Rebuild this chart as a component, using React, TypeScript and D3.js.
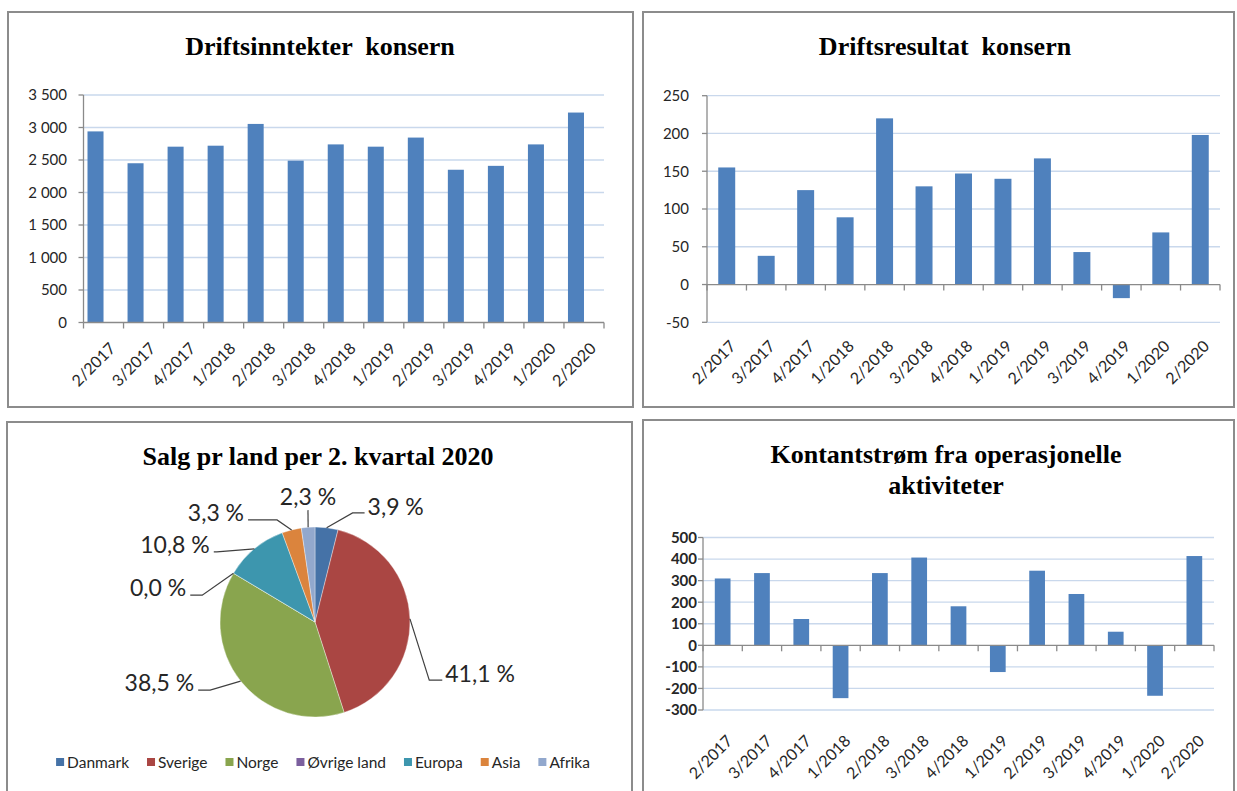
import React, { useEffect, useRef } from 'react';
import * as d3 from 'd3';

// quarters on the category axis (same for all three bar charts)
const QUARTERS = ['2/2017', '3/2017', '4/2017', '1/2018', '2/2018', '3/2018', '4/2018', '1/2019', '2/2019', '3/2019', '4/2019', '1/2020', '2/2020'];

// Driftsinntekter konsern
const REVENUE = [2940, 2450, 2705, 2720, 3055, 2490, 2740, 2705, 2845, 2350, 2410, 2740, 3230];
const REVENUE_TICKS = [0, 500, 1000, 1500, 2000, 2500, 3000, 3500];

// Driftsresultat konsern
const OP_RESULT = [155, 38, 125, 89, 220, 130, 147, 140, 167, 43, -18, 69, 198];
const OP_RESULT_TICKS = [-50, 0, 50, 100, 150, 200, 250];

// Kontantstrøm fra operasjonelle aktiviteter
const CASH_FLOW = [310, 335, 122, -245, 335, 407, 181, -124, 346, 238, 63, -234, 414];
const CASH_FLOW_TICKS = [-300, -200, -100, 0, 100, 200, 300, 400, 500];

// Salg pr land per 2. kvartal 2020 (%)
const COUNTRIES = ['Danmark', 'Sverige', 'Norge', 'Øvrige land', 'Europa', 'Asia', 'Afrika'];
const SHARES = [3.9, 41.1, 38.5, 0.0, 10.8, 3.3, 2.3];

const COUNTRY_COLORS = ['#4572A7', '#AA4643', '#89A54E', '#7B5F9E', '#3D96AE', '#DB843D', '#92A8CD'];
const BAR_COLOR = '#4F81BD';
const GRID_COLOR = '#C9D8EC';
const AXIS_COLOR = '#8A8A8A';
const BORDER_COLOR = '#8C8C8C';
const TEXT_COLOR = '#262626';
const SANS = 'Lato, "Open Sans", sans-serif';
const SERIF = '"Liberation Serif", "Times New Roman", serif';

// where Excel put the pie data labels: elbow of the leader line (polar, degrees / radii), tail length
const PIE_LABEL_LAYOUT = [
  { angle: 19, dist: 1.215, tail: 12 },
  { angle: 117, dist: 1.35, tail: 13 },
  { angle: 237, dist: 1.316, tail: -12 },
  { angle: 283.4, dist: 1.22, tail: -12 },
  { angle: 305.5, dist: 1.27, tail: -3 },
  { angle: 339.6, dist: 1.146, tail: -29 },
  { angle: 356.4, dist: 1.18, tail: 0 },
];

const noLocale = d3.formatLocale({ decimal: ',', thousands: '\u00a0', grouping: [3], currency: ['', ''], minus: '-' });
const fmtInt = noLocale.format(',d');
const fmtPct = (v) => noLocale.format('.1f')(v) + ' %';

function drawPanel(svg, x, y, w, h) {
  svg.append('rect')
    .attr('x', x).attr('y', y).attr('width', w).attr('height', h)
    .attr('fill', '#fff').attr('stroke', BORDER_COLOR).attr('stroke-width', 2);
}

function drawTitle(svg, lines, cx, y0, lineH) {
  svg.append('g').selectAll('text').data(lines).enter().append('text')
    .attr('x', cx).attr('y', (d, i) => y0 + i * lineH)
    .attr('text-anchor', 'middle')
    .style('font-family', SERIF).style('font-weight', 'bold').style('font-size', '26px')
    .style('white-space', 'pre')
    .attr('fill', '#000')
    .text(d => d);
}

function drawBarChart(svg, cfg) {
  const g = svg.append('g');
  const x = d3.scaleBand().domain(QUARTERS).range([cfg.left, cfg.right]).padding(0);
  const y = d3.scaleLinear().domain(cfg.domain).range([cfg.bottom, cfg.top]);
  const step = x.step();

  // gridlines
  g.selectAll('.grid').data(cfg.ticks.filter(t => t !== 0)).enter().append('line')
    .attr('x1', cfg.left).attr('x2', cfg.right)
    .attr('y1', d => y(d)).attr('y2', d => y(d))
    .attr('stroke', GRID_COLOR).attr('stroke-width', 1.3);

  // bars
  let barX, barW;
  if (cfg.pair) {
    // clustered layout with an empty second series, so the bar sits left in its slot
    const sub = d3.scaleBand().domain(['s1', 's2']).range([0, step]).paddingInner(0).paddingOuter(0.25);
    barX = q => x(q) + sub('s1');
    barW = sub.bandwidth();
  } else {
    const inner = d3.scaleBand().domain(['s1']).range([0, step]).paddingInner(cfg.gap).paddingOuter(cfg.gap / 2);
    barX = q => x(q) + inner('s1');
    barW = inner.bandwidth();
  }
  g.selectAll('.bar').data(cfg.values).enter().append('rect')
    .attr('x', (d, i) => barX(QUARTERS[i]))
    .attr('width', barW)
    .attr('y', d => Math.min(y(d), y(0)))
    .attr('height', d => Math.abs(y(d) - y(0)))
    .attr('fill', BAR_COLOR);

  // value axis
  g.append('line')
    .attr('x1', cfg.left).attr('x2', cfg.left)
    .attr('y1', y(cfg.domain[1])).attr('y2', y(cfg.domain[0]))
    .attr('stroke', AXIS_COLOR).attr('stroke-width', 1.3);
  g.selectAll('.ytick').data(cfg.ticks).enter().append('line')
    .attr('x1', cfg.left - 5).attr('x2', cfg.left)
    .attr('y1', d => y(d)).attr('y2', d => y(d))
    .attr('stroke', AXIS_COLOR).attr('stroke-width', 1.3);
  g.selectAll('.ylab').data(cfg.ticks).enter().append('text')
    .attr('x', cfg.labelRight).attr('y', d => y(d)).attr('dy', '0.36em')
    .attr('text-anchor', 'end')
    .style('font-family', SANS).style('font-size', '15px')
    .style('font-weight', cfg.boldTicks ? 'bold' : 'normal')
    .attr('fill', TEXT_COLOR)
    .text(d => fmtInt(d));

  // category axis at zero
  const y0 = y(0);
  g.append('line')
    .attr('x1', cfg.left).attr('x2', cfg.right)
    .attr('y1', y0).attr('y2', y0)
    .attr('stroke', AXIS_COLOR).attr('stroke-width', 1.3);
  g.selectAll('.xtick').data(d3.range(QUARTERS.length + 1)).enter().append('line')
    .attr('x1', i => cfg.left + i * step).attr('x2', i => cfg.left + i * step)
    .attr('y1', y0).attr('y2', y0 + 6)
    .attr('stroke', AXIS_COLOR).attr('stroke-width', 1.3);

  // rotated quarter labels below the plot area
  g.selectAll('.xlab').data(QUARTERS).enter().append('text')
    .attr('transform', q => `translate(${x(q) + step / 2 + cfg.labelDx},${cfg.bottom + cfg.labelDy}) rotate(-45)`)
    .attr('text-anchor', 'end')
    .style('font-family', SANS).style('font-size', '16px')
    .attr('fill', TEXT_COLOR)
    .text(q => q);
}

function drawPie(svg, cx, cy, r) {
  const g = svg.append('g').attr('transform', `translate(${cx},${cy})`);
  const pie = d3.pie().sort(null).value(d => d);
  const arcs = pie(SHARES);
  const arc = d3.arc().innerRadius(0).outerRadius(r);

  g.selectAll('path').data(arcs).enter().append('path')
    .attr('d', arc)
    .attr('fill', (d, i) => COUNTRY_COLORS[i])
    .attr('stroke', '#fff').attr('stroke-width', 0.6).attr('stroke-opacity', 0.6);

  arcs.forEach((a, i) => {
    const mid = (a.startAngle + a.endAngle) / 2;
    const edge = [r * Math.sin(mid), -r * Math.cos(mid)];
    const lay = PIE_LABEL_LAYOUT[i];
    const ang = lay.angle * Math.PI / 180;
    const elbow = [lay.dist * r * Math.sin(ang), -lay.dist * r * Math.cos(ang)];
    const tailEnd = [elbow[0] + lay.tail, elbow[1]];
    const pts = [edge, elbow, tailEnd];
    g.append('path')
      .attr('d', d3.line()(pts))
      .attr('fill', 'none').attr('stroke', '#404040').attr('stroke-width', 1.2);

    let tx, ty, anchor;
    if (lay.tail > 0) { tx = tailEnd[0] + 3; ty = tailEnd[1] + 2; anchor = 'start'; }
    else if (lay.tail < 0) { tx = tailEnd[0] - 4; ty = tailEnd[1] + 1; anchor = 'end'; }
    else { tx = elbow[0]; ty = elbow[1] - 5; anchor = 'middle'; }
    g.append('text')
      .attr('x', tx).attr('y', ty)
      .attr('text-anchor', anchor)
      .style('font-family', SANS).style('font-size', '23px')
      .attr('fill', TEXT_COLOR)
      .text(fmtPct(SHARES[i]));
  });
}

function drawLegend(svg, cx, cy) {
  const g = svg.append('g');
  const sw = 8, swGap = 3, itemGap = 18;
  const items = COUNTRIES.map((c, i) => {
    const it = g.append('g');
    it.append('rect').attr('width', sw).attr('height', sw).attr('y', -sw / 2 - 1).attr('fill', COUNTRY_COLORS[i]);
    const t = it.append('text')
      .attr('x', sw + swGap).attr('y', 0).attr('dy', '0.35em')
      .style('font-family', SANS).style('font-size', '15.5px')
      .attr('fill', TEXT_COLOR)
      .text(c);
    const w = sw + swGap + (t.node() as SVGTextElement).getComputedTextLength();
    return { it, w };
  });
  const total = d3.sum(items, d => d.w) + itemGap * (items.length - 1);
  let xPos = cx - total / 2;
  items.forEach(({ it, w }) => {
    it.attr('transform', `translate(${xPos},${cy})`);
    xPos += w + itemGap;
  });
}

export default function App() {
  const svgRef = useRef(null);

  useEffect(() => {
    document.body.style.margin = '0';
    const svg = d3.select(svgRef.current);
    svg.selectAll('*').remove();

    // four framed panels
    drawPanel(svg, 8, 12, 625, 395);
    drawPanel(svg, 643, 12, 591, 395);
    drawPanel(svg, 7, 422, 625, 390);
    drawPanel(svg, 643, 420, 591, 390);

    drawTitle(svg, ['Driftsinntekter  konsern'], 320, 55, 30);
    drawBarChart(svg, {
      values: REVENUE, ticks: REVENUE_TICKS, domain: [0, 3500],
      left: 83.5, right: 604, top: 95, bottom: 322.5,
      labelRight: 67, pair: true, labelDx: 13, labelDy: 27,
    });

    drawTitle(svg, ['Driftsresultat  konsern'], 945, 55, 30);
    drawBarChart(svg, {
      values: OP_RESULT, ticks: OP_RESULT_TICKS, domain: [-50, 250],
      left: 707, right: 1220, top: 95.7, bottom: 322.3,
      labelRight: 689, gap: 0.57, labelDx: 10, labelDy: 25,
    });

    drawTitle(svg, ['Salg pr land per 2. kvartal 2020'], 318, 465, 30);
    drawPie(svg, 315, 622, 95);
    drawLegend(svg, 323, 763);

    drawTitle(svg, ['Kontantstrøm fra operasjonelle', 'aktiviteter'], 946, 463, 31);
    drawBarChart(svg, {
      values: CASH_FLOW, ticks: CASH_FLOW_TICKS, domain: [-300, 500],
      left: 703, right: 1214, top: 537.5, bottom: 710,
      labelRight: 697, gap: 0.6, boldTicks: true, labelDx: 11, labelDy: 32,
    });
  }, []);

  return (
    <div style={{ position: 'absolute', left: 0, top: 0 }}>
      <svg ref={svgRef} width={1237} height={791} style={{ display: 'block', background: '#fff' }} />
    </div>
  );
}
